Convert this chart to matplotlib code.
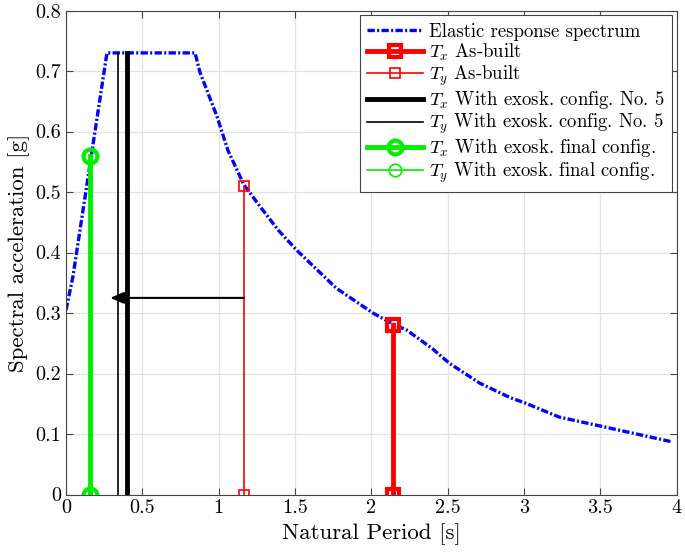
import numpy as np
import matplotlib
matplotlib.use('Agg')
import matplotlib.pyplot as plt

plt.rcParams['font.family'] = 'serif'
plt.rcParams['font.serif'] = ['cmr10']
plt.rcParams['mathtext.fontset'] = 'cm'
plt.rcParams['axes.formatter.use_mathtext'] = True

# Elastic response spectrum
T_spec = [0.0, 0.045, 0.268, 0.845, 0.877, 0.99, 1.06, 1.165, 1.28, 1.39, 1.51,
          1.77, 2.01, 2.14, 2.23, 2.40, 2.51, 2.71, 2.91, 3.01, 3.23, 3.52, 3.71, 3.97]
Sa_spec = [0.305, 0.36, 0.73, 0.73, 0.698, 0.624, 0.569, 0.512, 0.473, 0.437, 0.404,
           0.341, 0.30, 0.282, 0.272, 0.241, 0.217, 0.184, 0.16, 0.151, 0.128, 0.112, 0.1015, 0.087]

# Periods and spectral accelerations
T_asbuilt = [2.14, 1.165]      # Tx, Ty
Sa_asbuilt = [0.28, 0.51]
T_conf5 = [0.40, 0.338]
Sa_conf5 = [0.73, 0.73]
T_final = [0.155, 0.158]
Sa_final = [0.56, 0.56]

arrow_y = 0.325

fig = plt.figure(figsize=(6.85, 5.55), dpi=100)
ax = fig.add_axes([0.0964, 0.109, 0.8916, 0.872])

ax.plot(T_spec, Sa_spec, color='blue', lw=2.4, dashes=(2.2, 0.7, 0.6, 0.7),
        label='Elastic response spectrum')

ax.plot([T_asbuilt[0]] * 2, [0, Sa_asbuilt[0]], color='red', lw=3.5, marker='s',
        ms=9, mfc='none', mew=3, label=r'$T_x$ As-built')
ax.plot([T_asbuilt[1]] * 2, [0, Sa_asbuilt[1]], color='red', lw=1.2, marker='s',
        ms=7, mfc='none', mew=1.2, label=r'$T_y$ As-built')
ax.plot([T_conf5[0]] * 2, [0, Sa_conf5[0]], color='black', lw=3.5,
        label=r'$T_x$ With exosk. config. No. 5')
ax.plot([T_conf5[1]] * 2, [0, Sa_conf5[1]], color='black', lw=1.2,
        label=r'$T_y$ With exosk. config. No. 5')
ax.plot([T_final[0]] * 2, [0, Sa_final[0]], color='#00ee00', lw=3.5, marker='o',
        ms=10, mfc='none', mew=3, label=r'$T_x$ With exosk. final config.')
ax.plot([T_final[1]] * 2, [0, Sa_final[1]], color='#00ee00', lw=1.2, marker='o',
        ms=9, mfc='none', mew=1.2, label=r'$T_y$ With exosk. final config.')

ax.annotate('', xy=(0.29, arrow_y), xytext=(T_asbuilt[1], arrow_y),
            arrowprops=dict(arrowstyle='-|>,head_length=0.8,head_width=0.35',
                            color='black', lw=1.5, shrinkA=0, shrinkB=0))

ax.set_xlim(0, 4)
ax.set_ylim(0, 0.8)
ax.set_xticks(np.arange(0, 4.01, 0.5))
ax.set_xticklabels(['0', '0.5', '1', '1.5', '2', '2.5', '3', '3.5', '4'])
ax.set_yticks(np.arange(0, 0.81, 0.1))
ax.set_yticklabels(['0', '0.1', '0.2', '0.3', '0.4', '0.5', '0.6', '0.7', '0.8'])
ax.grid(True, color='#e3e3e3', lw=0.9)
ax.set_axisbelow(True)
ax.tick_params(direction='in', top=True, right=True, labelsize=14.5, length=5,
               color='#444444')
for s in ax.spines.values():
    s.set_color('#444444')
ax.set_xlabel('Natural Period [s]', fontsize=16.5)
ax.set_ylabel('Spectral acceleration [g]', fontsize=16.5)

leg = ax.legend(loc='upper right', fontsize=13.5, numpoints=1, handlelength=3.0,
                fancybox=False, edgecolor='#444444', framealpha=1,
                borderaxespad=0.25, labelspacing=0.05, handletextpad=0.3,
                borderpad=0.4)
leg.get_frame().set_linewidth(0.8)

fig.savefig('out.png', dpi=100)
